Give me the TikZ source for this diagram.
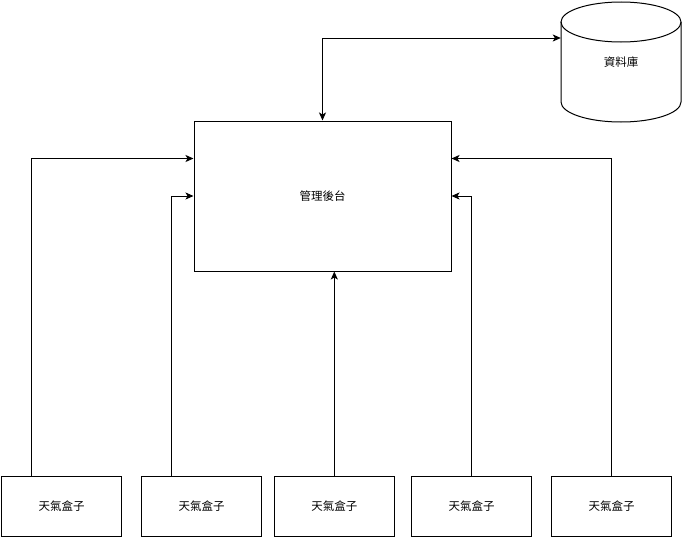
\documentclass[tikz,border=0pt]{standalone}
\usepackage{fontspec}
\newfontfamily\cjk{Noto Sans CJK TC}
\usetikzlibrary{arrows.meta}
\begin{document}
\begin{tikzpicture}[x=1pt,y=1pt,
  every node/.style={font=\cjk\fontsize{11.5}{14}\selectfont},
  box/.style={draw, line width=1pt, minimum width=120pt, minimum height=60pt, inner sep=0pt},
  conn/.style={line width=1pt, -{Stealth[length=8pt,width=7pt,inset=2pt]}},
  biconn/.style={line width=1pt, {Stealth[length=8pt,width=7pt,inset=2pt]}-{Stealth[length=8pt,width=7pt,inset=2pt]}}]
\useasboundingbox (0,0) rectangle (683,-538);
% database cylinder
\draw[line width=1pt, fill=white] (561,-22) -- (561,-102) arc[start angle=180,end angle=360,x radius=60pt,y radius=20pt] -- (681,-22);
\draw[line width=1pt] (621,-22) ellipse [x radius=60pt, y radius=20pt];
\node[minimum width=120pt, minimum height=120pt, inner sep=0pt] (db) at (621,-62) {資料庫};
% main
\node[box, minimum width=257pt, minimum height=150pt] (main) at (322.5,-196) {管理後台};
% boxes
\node[box] (b1) at (61.5,-506) {天氣盒子};
\node[box] (b2) at (201.5,-506) {天氣盒子};
\node[box] (b3) at (334.3,-506) {天氣盒子};
\node[box] (b4) at (471.5,-506) {天氣盒子};
\node[box] (b5) at (611.5,-506) {天氣盒子};
% connectors
\draw[biconn] (main.north) |- ([yshift=24pt]db.west);
\draw[conn] ([xshift=-30pt]b1.north) |- ([yshift=37.5pt]main.west);
\draw[conn] ([xshift=-30pt]b2.north) |- (main.west);
\draw[conn] (b3.north) -- (b3.north |- main.south);
\draw[conn] (b4.north) |- (main.east);
\draw[conn] (b5.north) |- ([yshift=37.5pt]main.east);
\end{tikzpicture}
\end{document}
